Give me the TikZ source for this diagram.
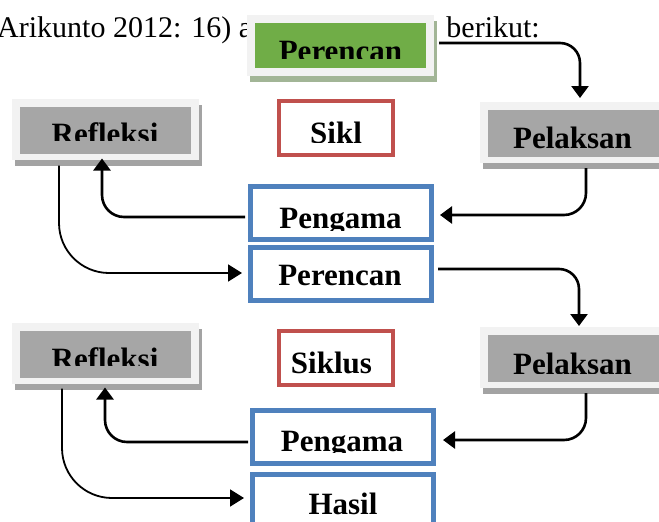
\documentclass[tikz,border=0pt]{standalone}
\usepackage{fontspec}
\setmainfont{Liberation Serif}
\usetikzlibrary{arrows.meta,shadows}
\definecolor{greyfill}{HTML}{A6A6A6}
\definecolor{framegrey}{HTML}{F2F2F2}
\definecolor{shadowgrey}{HTML}{A3A3A3}
\definecolor{greenfill}{HTML}{70AD47}
\definecolor{greenshadow}{HTML}{A2B596}
\definecolor{boxblue}{HTML}{4F81BD}
\definecolor{boxred}{HTML}{C0504D}
\begin{document}
\begin{tikzpicture}[x=1pt,y=-1pt,
  framebox/.style={rectangle, draw=none, fill=framegrey, inner sep=0pt, outer sep=0pt,
    minimum width=187pt, minimum height=61pt,
    general shadow={fill=#1, shadow xshift=2.5pt, shadow yshift=-6pt}},
  greybox/.style={framebox=shadowgrey,
    path picture={\fill[greyfill] ([xshift=8pt,yshift=-8pt]path picture bounding box.north west) rectangle ([xshift=-8pt,yshift=6pt]path picture bounding box.south east);}},
  greenbox/.style={framebox=greenshadow,
    path picture={\fill[greenfill] ([xshift=8pt,yshift=-8pt]path picture bounding box.north west) rectangle ([xshift=-8pt,yshift=8pt]path picture bounding box.south east);}},
  bluebox/.style={rectangle, draw=boxblue, line width=5pt, fill=white, inner sep=0pt,
    minimum width=181pt, minimum height=53pt},
  redbox/.style={rectangle, draw=boxred, line width=4pt, fill=white, inner sep=0pt,
    minimum width=114pt, minimum height=54pt},
  lbl/.style={font=\fontsize{31}{36}\selectfont\bfseries, inner sep=0pt, anchor=base},
  bodytext/.style={font=\fontsize{30}{36}\selectfont, inner sep=0pt},
  arr/.style={line width=2.6pt, -{Triangle[length=12pt,width=17pt]}},
  arrthin/.style={line width=1.8pt, -{Triangle[length=14pt,width=17pt]}}
]
\useasboundingbox[fill=white] (0,0) rectangle (659,522);

% running text behind the top box
\node[bodytext, anchor=base west] (t1) at (-3,37) {Arikunto 2012: 16) adalah sebagai};
\node[bodytext, anchor=base east] (t2) at (540,37) {berikut:};

% boxes
\node[greenbox] (per1) at (340.5,45.5) {};
\node[greybox] (ref1) at (105.5,129) {};
\node[greybox, minimum width=200pt] (pel1) at (580,132.5) {};
\node[redbox] (sik1) at (336,128) {};
\node[bluebox] (peng1) at (341,213) {};
\node[bluebox] (per2) at (341,274) {};
\node[greybox] (ref2) at (105.5,353) {};
\node[greybox, minimum width=200pt] (pel2) at (580,357.5) {};
\node[redbox] (sik2) at (336,358) {};
\node[bluebox] (peng2) at (343,437) {};
\node[bluebox] (hasil) at (343,501) {};

% labels (clipped like the text frames)
\begin{scope}\clip (250,20) rectangle (430,58);
\node[lbl] (lper1) at (340.5,61) {Perencan};\end{scope}
\begin{scope}\clip (15,100) rectangle (195,140);
\node[lbl] (lref1) at (105,144) {Refleksi};\end{scope}
\begin{scope}\clip (485,105) rectangle (659,148);
\node[lbl] (lpel1) at (572.5,148) {Pelaksan};\end{scope}
\begin{scope}\clip (282,104) rectangle (390,142);
\node[lbl, anchor=base west] (lsik1) at (310,143) {Sikl};\end{scope}
\begin{scope}\clip (253,189) rectangle (429,230);
\node[lbl] (lpeng1) at (340.5,228) {Pengama};\end{scope}
\node[lbl] (lper2) at (340,285) {Perencan};
\node[lbl] (lsik2) at (331.5,373) {Siklus};
\begin{scope}\clip (15,326) rectangle (195,365);
\node[lbl] (lref2) at (105,369) {Refleksi};\end{scope}
\begin{scope}\clip (485,330) rectangle (659,373);
\node[lbl] (lpel2) at (572.5,374) {Pelaksan};\end{scope}
\begin{scope}\clip (256,412) rectangle (431,452);
\node[lbl] (lpeng2) at (342,451) {Pengama};\end{scope}
\node[lbl] (lhasil) at (343,514) {Hasil};

% connectors
\draw[arr, rounded corners=20pt] ([xshift=5pt,yshift=2.5pt]per1.east) -| ([xshift=0pt,yshift=4pt]pel1.north);
\draw[arr, rounded corners=22pt] ([xshift=6pt,yshift=-5pt]pel1.south) |- ([xshift=6pt,yshift=-2pt]peng1.east);
\draw[arr, rounded corners=22pt] ([xshift=-3pt,yshift=-4pt]peng1.west) -| ([xshift=-3.5pt,yshift=1pt]ref1.south);
\draw[arrthin, rounded corners=50pt] ([xshift=-46.5pt,yshift=-6pt]ref1.south) |- ([xshift=-6pt,yshift=1pt]per2.west);
\draw[arr, rounded corners=20pt] ([xshift=4pt,yshift=5pt]per2.east) -| ([xshift=-1pt,yshift=1pt]pel2.north);
\draw[arr, rounded corners=22pt] ([xshift=6pt,yshift=-5pt]pel2.south) |- ([xshift=7pt,yshift=-3pt]peng2.east);
\draw[arr, rounded corners=22pt] ([xshift=-2pt,yshift=-5pt]peng2.west) -| ([xshift=-0.5pt,yshift=-4pt]ref2.south);
\draw[arrthin, rounded corners=50pt] ([xshift=-43.5pt,yshift=-5pt]ref2.south) |- ([xshift=-6pt,yshift=3pt]hasil.west);
\end{tikzpicture}
\end{document}
